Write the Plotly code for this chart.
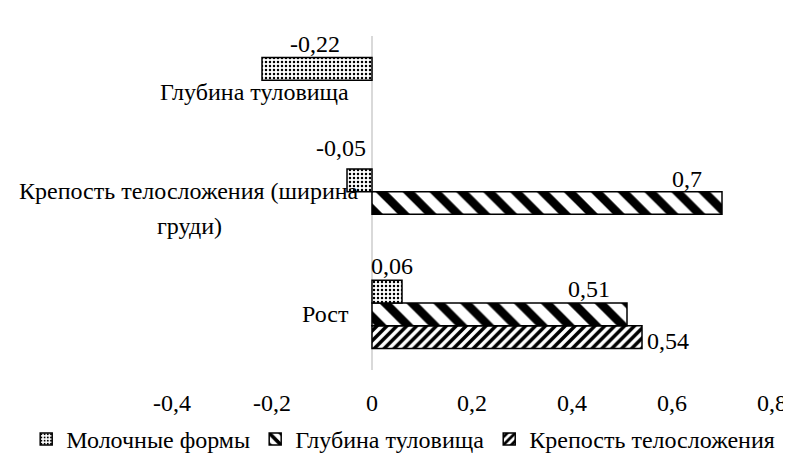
import plotly.graph_objects as go

# ---- data ----
categories = ["Рост", "Крепость телосложения (ширина груди)", "Глубина туловища"]
category_labels = ["Рост", "Крепость телосложения (ширина<br>груди)", "Глубина туловища"]
series_names = ["Молочные формы", "Глубина туловища", "Крепость телосложения"]
milk_forms = [0.06, -0.05, -0.22]
body_depth = [0.51, 0.70, None]
body_strength = [0.54, None, None]
tick_values = [-0.4, -0.2, 0, 0.2, 0.4, 0.6, 0.8]
tick_labels = ["-0,4", "-0,2", "0", "0,2", "0,4", "0,6", "0,8"]

FONT = "Liberation Serif"
FS = 24

fig = go.Figure()

styles = {
    "Крепость телосложения": dict(shape="/", size=7, solidity=0.5),
    "Глубина туловища": dict(shape="\\", size=19, solidity=0.45),
    "Молочные формы": dict(shape=".", size=4, solidity=0.3),
}
series_values = {
    "Молочные формы": milk_forms,
    "Глубина туловища": body_depth,
    "Крепость телосложения": body_strength,
}
# bottom slot first (plotly places grouped horizontal bars upward)
for name in ["Крепость телосложения", "Глубина туловища", "Молочные формы"]:
    st = styles[name]
    fig.add_trace(go.Bar(
        y=categories, x=series_values[name], orientation="h", name=name,
        marker=dict(color="white",
                    line=dict(color="black", width=1.5),
                    pattern=dict(shape=st["shape"], size=st["size"], solidity=st["solidity"],
                                 fgcolor="black", bgcolor="white", fillmode="replace")),
        hoverinfo="skip",
    ))

# data labels: slot offset (px) per series and label nudges
slot_px = {"Молочные формы": 23.5, "Глубина туловища": 0, "Крепость телосложения": -23.5}
nudges = {
    ("Молочные формы", 0): (-10, 25), ("Молочные формы", 1): (-6, 32), ("Молочные формы", 2): (53, 24),
    ("Глубина туловища", 0): (-38, 25), ("Глубина туловища", 1): (-35, 24),
    ("Крепость телосложения", 0): (26, -3),
}
for name, vals in series_values.items():
    for i, v in enumerate(vals):
        if v is None:
            continue
        dx, dy = nudges[(name, i)]
        fig.add_annotation(x=v, y=categories[i], xref="x", yref="y",
                           text=str(v).replace(".", ","), showarrow=False,
                           xanchor="center", yanchor="middle",
                           xshift=dx, yshift=slot_px[name] + dy,
                           font=dict(family=FONT, size=FS, color="black"))

# category labels next to the zero axis (one annotation per text line)
label_place = [("right", -21, 0), ("center", -183, -5), ("right", -21, 0)]
LINE_GAP = 35
for cat, lab, (anchor, dx, dy) in zip(categories, category_labels, label_place):
    lines = lab.split("<br>")
    n = len(lines)
    for k, line in enumerate(lines):
        off = dy + ((n - 1) / 2 - k) * LINE_GAP
        fig.add_annotation(x=0, y=cat, xref="x", yref="y", text=line, showarrow=False,
                           xanchor=anchor, yanchor="middle",
                           xshift=dx, yshift=off,
                           font=dict(family=FONT, size=FS, color="black"))

fig.update_layout(
    width=791, height=466,
    margin=dict(l=164, r=18, t=28, b=94),
    paper_bgcolor="white", plot_bgcolor="white",
    barmode="group", bargap=0.387, bargroupgap=0,
    font=dict(family=FONT, size=FS, color="black"),
    showlegend=True,
    legend=dict(orientation="h", traceorder="reversed", x=-0.243, y=-0.208,
                xanchor="left", yanchor="middle", bgcolor="rgba(0,0,0,0)",
                font=dict(family=FONT, size=FS, color="black"),
                itemwidth=30, tracegroupgap=0),
    xaxis=dict(range=[-0.4, 0.8], tickvals=tick_values, ticktext=tick_labels,
               showgrid=False, zeroline=True, zerolinecolor="#d9d9d9", zerolinewidth=1.5,
               showline=False, ticks="", ticklabelstandoff=16,
               tickfont=dict(family=FONT, size=FS, color="black")),
    yaxis=dict(categoryorder="array", categoryarray=categories, range=[-0.5, 2.5],
               showticklabels=False, showgrid=False, zeroline=False, showline=False, ticks=""),
)

fig.write_html("out.html")
